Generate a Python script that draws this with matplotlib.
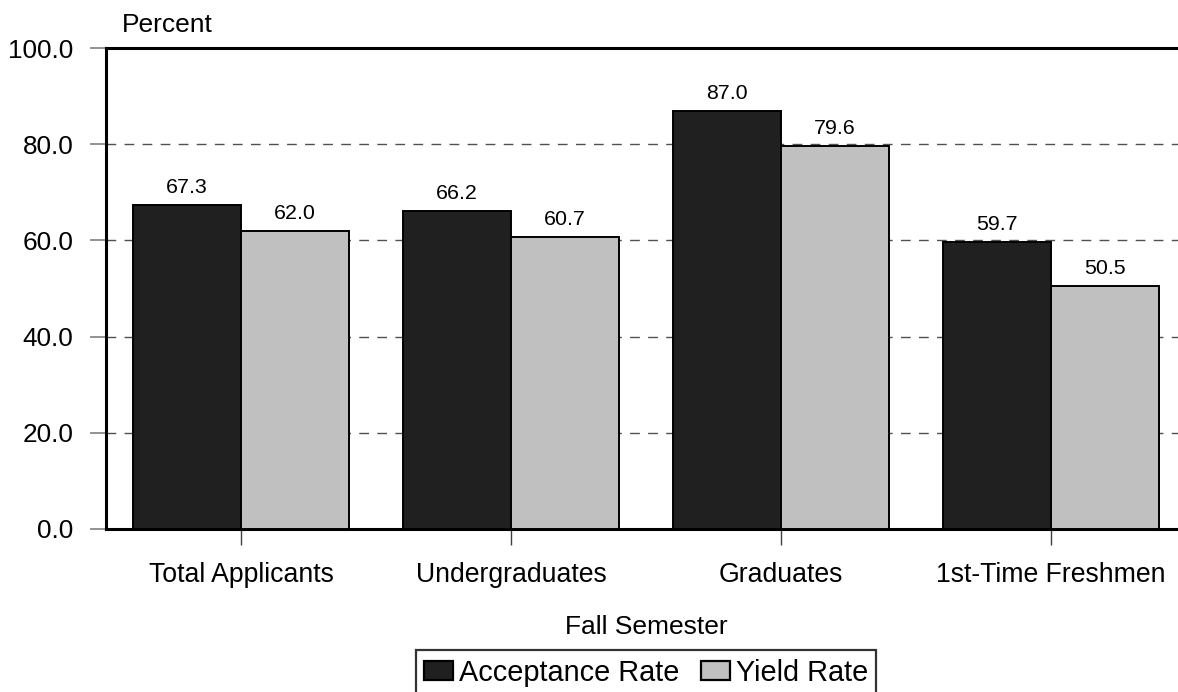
import matplotlib
matplotlib.use("Agg")
import matplotlib.pyplot as plt
import numpy as np

plt.rcParams["font.family"] = ["Liberation Sans", "DejaVu Sans"]

categories = ["Total Applicants", "Undergraduates", "Graduates", "1st-Time Freshmen"]
acceptance_rate = [67.3, 66.2, 87.0, 59.7]
yield_rate = [62.0, 60.7, 79.6, 50.5]
series_names = ["Acceptance Rate", "Yield Rate"]
y_ticks = [0, 20, 40, 60, 80, 100]

W, H = 1178, 692
fig = plt.figure(figsize=(W / 100, H / 100), dpi=100)
ax = fig.add_axes([106 / W, (H - 529) / H, (1186 - 106) / W, (529 - 48) / H])

x = np.arange(len(categories))
width = 0.4
bars1 = ax.bar(x - width / 2, acceptance_rate, width, color="#202020",
               edgecolor="black", linewidth=1.4, label=series_names[0], zorder=3)
bars2 = ax.bar(x + width / 2, yield_rate, width, color="#c0c0c0",
               edgecolor="black", linewidth=1.4, label=series_names[1], zorder=3)

for bars, vals in ((bars1, acceptance_rate), (bars2, yield_rate)):
    for b, v in zip(bars, vals):
        ax.annotate("%.1f" % v, (b.get_x() + b.get_width() / 2, v),
                    xytext=(0, 8.5), textcoords="offset points",
                    ha="center", va="baseline", fontsize=15.4)

ax.set_xlim(-0.5, len(categories) - 0.5)
ax.set_ylim(0, 100)
ax.set_yticks(y_ticks)
ax.set_yticklabels(["%.1f" % t for t in y_ticks], fontsize=18.8)
ax.set_xticks(x)
ax.set_xticklabels(categories, fontsize=19.2)

ax.tick_params(axis="y", direction="out", length=11.5, width=1.2,
               color="#808080", pad=12)
ax.tick_params(axis="x", direction="out", length=11.5, width=1.0,
               color="#404040", pad=12)

for t in y_ticks[1:-1]:
    ax.axhline(t, color="#505050", linewidth=1.0, linestyle=(0, (7, 6)), zorder=1)

for side in ("left", "bottom", "top"):
    ax.spines[side].set_linewidth(2.2)
    ax.spines[side].set_color("black")
ax.spines["right"].set_visible(False)

fig.text(122 / W, 1 - 25 / H, "Percent", fontsize=19, ha="left", va="center")
fig.text(646 / W, 1 - 627 / H, "Fall Semester", fontsize=19,
         ha="center", va="center")

leg = fig.legend(loc="upper center", bbox_to_anchor=(646 / W, 1 - 650 / H),
                 ncol=2, fontsize=20.8, frameon=True, fancybox=False,
                 handlelength=1.0, handleheight=0.66, handletextpad=0.2,
                 columnspacing=0.75, borderpad=0.3, borderaxespad=0)
leg.get_frame().set_edgecolor("black")
leg.get_frame().set_linewidth(1.6)
for h in leg.legend_handles:
    h.set_linewidth(1.6)

fig.savefig("out.png", dpi=100)
